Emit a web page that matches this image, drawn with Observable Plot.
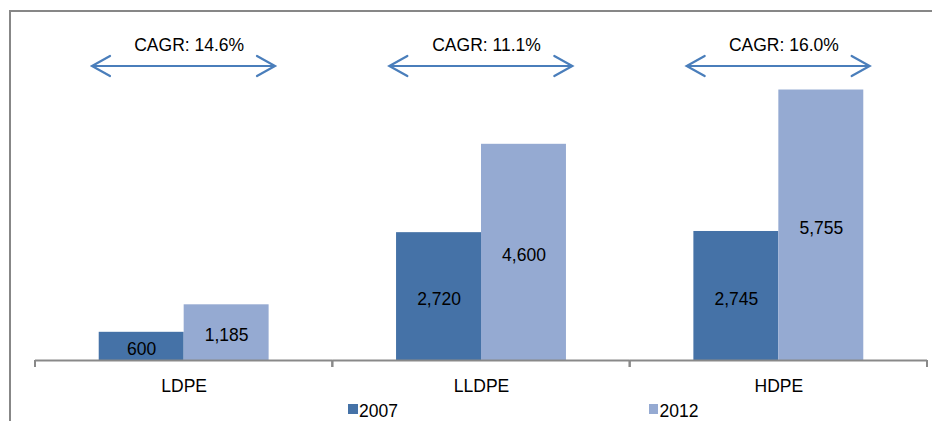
<!DOCTYPE html>
<html>
<head>
<meta charset="utf-8">
<script src="https://cdn.jsdelivr.net/npm/d3@7"></script>
<script src="https://cdn.jsdelivr.net/npm/@observablehq/plot@0.6"></script>
<style>
  body { margin: 0; background: #fff; font-family: "Liberation Sans", Arial, sans-serif; }
  #wrap { position: relative; width: 932px; height: 421px; overflow: hidden; }
  #frame { position: absolute; left: 9px; top: 10px; width: 1200px; height: 1200px;
           border-left: 2px solid #878787; border-top: 2px solid #878787; box-sizing: border-box; }
  #chart { position: absolute; left: 0; top: 0; }
  #legend { position: absolute; left: 0; top: 0; width: 932px; height: 421px; pointer-events: none; }
  .item { position: absolute; top: 401px; height: 20px; }
  .sw { position: absolute; left: 0; top: 2.5px; width: 9.5px; height: 10.5px; }
  .lab { position: absolute; left: 11px; top: 0; font-size: 17.5px; line-height: 20px; color: #000; white-space: nowrap; }
</style>
</head>
<body>
<div id="wrap">
  <div id="frame"></div>
  <div id="chart"></div>
  <div id="legend"></div>
</div>
<script>
const categories = ["LDPE", "LLDPE", "HDPE"];
const years = ["2007", "2012"];
const values2007 = [600, 2720, 2745];
const values2012 = [1185, 4600, 5755];
const cagrLabels = ["CAGR: 14.6%", "CAGR: 11.1%", "CAGR: 16.0%"];
const seriesColors = ["#4572A7", "#95AAD2"];

const rows = categories.flatMap((c, i) => [
  {category: c, year: years[0], value: values2007[i]},
  {category: c, year: years[1], value: values2012[i]}
]);
const cagr = categories.map((c, i) => ({category: c, label: cagrLabels[i]}));
const fmt = d3.format(",");

function decorations(index, scales, values, dims) {
  const {x, y} = scales;
  const [r0, r1] = x.range();
  const y0 = y(0);
  const yTop = Math.min(...y.range());
  const g = d3.create("svg:g");
  g.append("g").attr("stroke", "#898989").attr("stroke-width", 2)
    .selectAll("line").data([r0, r1]).join("line")
    .attr("x1", d => d).attr("x2", d => d).attr("y1", y0).attr("y2", y0 + 7);
  const ay = yTop + 35, ax1 = r0 + 57, ax2 = r0 + 240, hl = 18, hh = 10;
  g.append("path").attr("fill", "none").attr("stroke", "#4A7EBB").attr("stroke-width", 2.2)
    .attr("stroke-linecap", "round")
    .attr("d", `M${ax1},${ay}H${ax2}M${ax1 + hl},${ay - hh}L${ax1},${ay}L${ax1 + hl},${ay + hh}M${ax2 - hl},${ay - hh}L${ax2},${ay}L${ax2 - hl},${ay + hh}`);
  return g.node();
}

const chart = Plot.plot({
  width: 932,
  height: 400,
  marginLeft: 35,
  marginRight: 5,
  marginTop: 31,
  marginBottom: 40,
  style: {background: "transparent", fontFamily: "Liberation Sans, Arial, sans-serif", fontSize: "17.5px", color: "#000"},
  fx: {domain: categories, padding: 0, round: false, axis: "bottom", tickSize: 0, tickPadding: 19, label: null},
  x: {domain: years, paddingInner: 0, paddingOuter: 0.75, round: false, axis: null},
  y: {domain: [0, 7000], axis: null},
  color: {domain: years, range: seriesColors},
  marks: [
    Plot.barY(rows, {fx: "category", x: "year", y: "value", fill: "year"}),
    Plot.ruleY([0], {stroke: "#898989", strokeWidth: 2}),
    decorations,
    Plot.text(rows, {fx: "category", x: "year", y: d => d.value / 2, text: d => fmt(d.value), dy: 3, fill: "#000", fontSize: 17.5}),
    Plot.text(cagr, {fx: "category", text: "label", frameAnchor: "top", lineAnchor: "top", dx: 5, dy: 7, fill: "#000", fontSize: 17.5})
  ]
});
document.getElementById("chart").append(chart);

const legend = document.getElementById("legend");
const legendLefts = [348, 648.5];
years.forEach((yr, i) => {
  const item = document.createElement("div");
  item.className = "item";
  item.style.left = legendLefts[i] + "px";
  const sw = document.createElement("span");
  sw.className = "sw";
  sw.style.background = seriesColors[i];
  const lab = document.createElement("span");
  lab.className = "lab";
  lab.textContent = yr;
  item.append(sw, lab);
  legend.append(item);
});
</script>
</body>
</html>
